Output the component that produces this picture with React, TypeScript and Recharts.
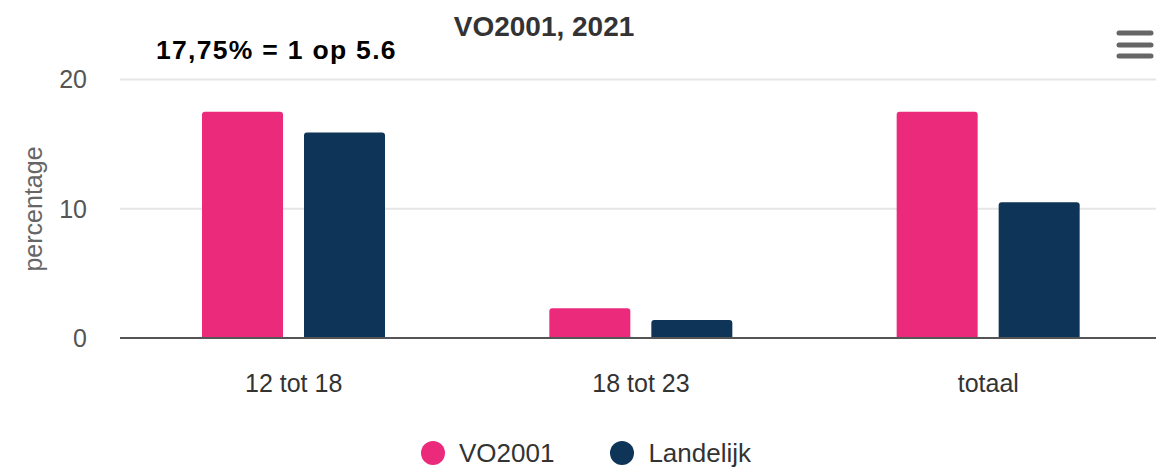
import React from 'react';
import { BarChart, Bar, XAxis, YAxis, CartesianGrid, Legend } from 'recharts';

const categories = ['12 tot 18', '18 tot 23', 'totaal'];
const vo2001 = [17.5, 2.3, 17.5];
const landelijk = [15.9, 1.4, 10.5];
const yTicks = [0, 10, 20];
const seriesNames = ['VO2001', 'Landelijk'];
const seriesColors = ['#EC2A7B', '#0E3557'];

const data = categories.map((c, i) => ({ name: c, VO2001: vo2001[i], Landelijk: landelijk[i] }));

const FONT = '"Liberation Sans", Arial, sans-serif';

const LegendContent = () => (
  <div style={{ display: 'flex', justifyContent: 'center', alignItems: 'center', fontFamily: FONT, fontSize: 26, color: '#333', height: 30, paddingLeft: 16 }}>
    {seriesNames.map((n, i) => (
      <div key={n} style={{ display: 'flex', alignItems: 'center', marginLeft: i === 0 ? 0 : 56 }}>
        <span style={{ display: 'inline-block', width: 24, height: 24, borderRadius: 12, background: seriesColors[i], marginRight: 14 }} />
        <span>{n}</span>
      </div>
    ))}
  </div>
);

const YLabel = () => {
  const cy = 209;
  const cx = 33;
  return (
    <text x={cx} y={cy} transform={`rotate(-90, ${cx}, ${cy})`} textAnchor="middle" dominantBaseline="central" fill="#666" fontSize={25} fontFamily={FONT}>
      percentage
    </text>
  );
};

export default function App() {
  return (
    <div style={{ position: 'absolute', left: 0, top: 0, width: 1156, height: 468, overflow: 'hidden', background: '#fff' }}>
      <div style={{ position: 'absolute', left: 0, top: 11, width: 1088, textAlign: 'center', fontFamily: FONT, fontSize: 28, fontWeight: 'bold', color: '#333', lineHeight: '32px' }}>
        VO2001, 2021
      </div>
      <div style={{ position: 'absolute', left: 156, top: 34, fontFamily: FONT, fontSize: 26.5, fontWeight: 'bold', color: '#000', letterSpacing: 1.3, lineHeight: '32px', whiteSpace: 'nowrap' }}>
        17,75% = 1 op 5.6
      </div>
      <svg style={{ position: 'absolute', left: 1115, top: 29 }} width={40} height={32}>
        {[4, 16, 27].map((y) => (
          <line key={y} x1={4} x2={36} y1={y} y2={y} stroke="#666" strokeWidth={5} strokeLinecap="round" />
        ))}
      </svg>
      <BarChart
        width={1163}
        height={468}
        data={data}
        margin={{ top: 79.5, right: 1, left: 0, bottom: 70 }}
        barSize={81}
        barGap={21}
      >
        <CartesianGrid vertical={false} stroke="#e6e6e6" strokeWidth={2} />
        <XAxis
          dataKey="name"
          tickLine={false}
          axisLine={{ stroke: '#555', strokeWidth: 2 }}
          tickSize={0}
          tickMargin={36}
          tick={{ fill: '#333', fontSize: 25, fontFamily: FONT }}
        />
        <YAxis
          width={120}
          domain={[0, 20]}
          ticks={yTicks}
          axisLine={false}
          tickLine={false}
          tickSize={0}
          tickMargin={33}
          tick={{ fill: '#555', fontSize: 25, fontFamily: FONT }}
          label={<YLabel />}
        />
        <Legend verticalAlign="bottom" content={<LegendContent />} wrapperStyle={{ top: 438, left: 0, width: 1156 }} />
        {seriesNames.map((n, i) => (
          <Bar key={n} dataKey={n} fill={seriesColors[i]} radius={[3, 3, 0, 0]} isAnimationActive={false} />
        ))}
      </BarChart>
    </div>
  );
}
